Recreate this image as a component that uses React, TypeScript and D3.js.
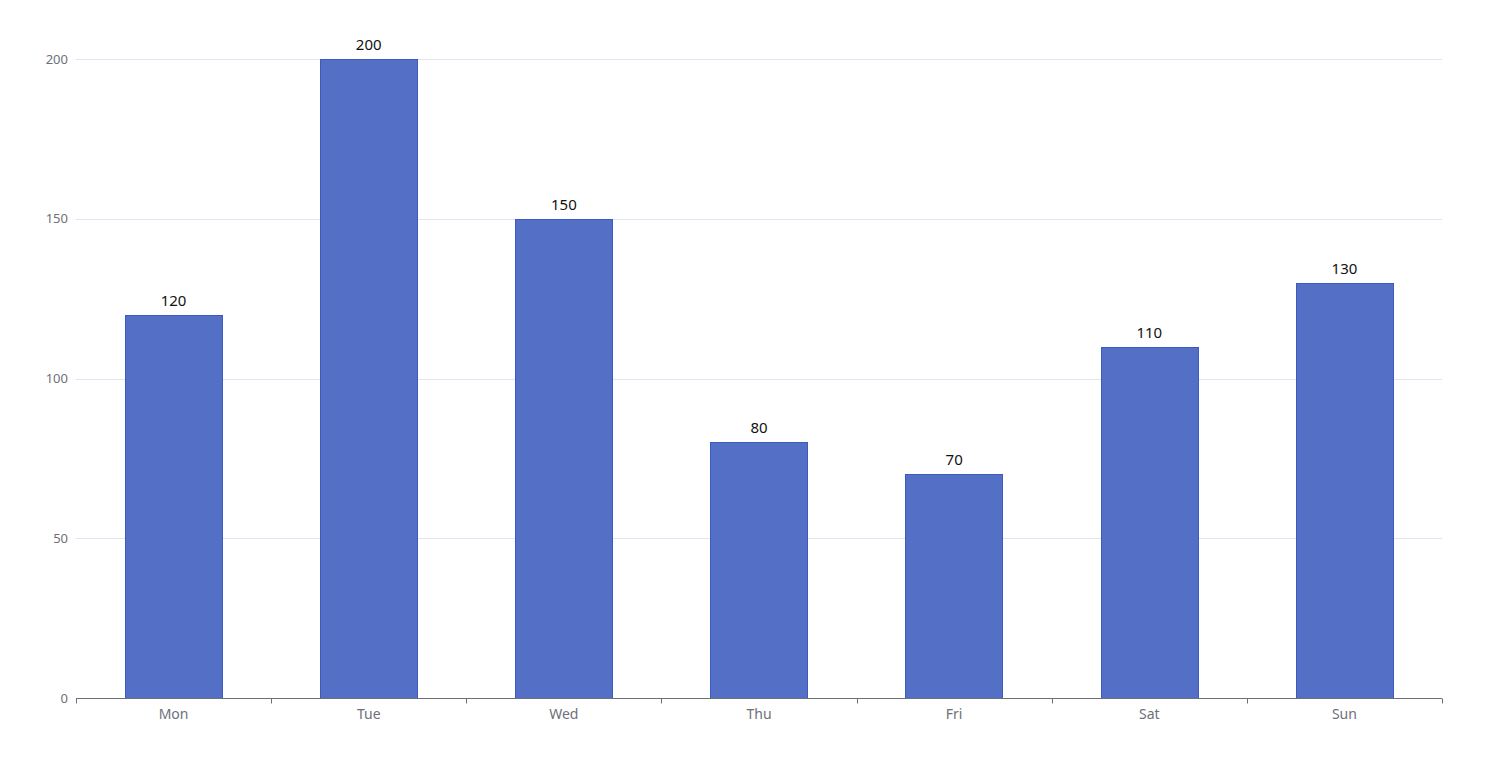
import * as d3 from "d3";
import { useEffect, useRef } from "react";

const days = ["Mon", "Tue", "Wed", "Thu", "Fri", "Sat", "Sun"];
const values = [120, 200, 150, 80, 70, 110, 130];
const yTicks = [0, 50, 100, 150, 200];

const W = 1499;
const H = 767;
const FONT = "'Noto Sans', 'Microsoft YaHei', sans-serif";

export default function App() {
    const ref = useRef<SVGSVGElement>(null);

    useEffect(() => {
        const margin = { top: 59, right: 57, bottom: 69, left: 76 };
        const svg = d3.select(ref.current);
        svg.selectAll("*").remove();

        const x = d3.scaleBand<string>()
            .domain(days)
            .range([margin.left, W - margin.right])
            .paddingInner(0.5)
            .paddingOuter(0.25);

        const y = d3.scaleLinear()
            .domain([0, 200])
            .range([H - margin.bottom, margin.top]);

        // grid lines
        svg.append("g")
            .selectAll("line")
            .data(yTicks.filter(t => t > 0))
            .join("line")
            .attr("x1", margin.left)
            .attr("x2", W - margin.right)
            .attr("y1", d => Math.round(y(d)) + 0.5)
            .attr("y2", d => Math.round(y(d)) + 0.5)
            .attr("stroke", "#E0E6F1");

        // y labels
        svg.append("g")
            .selectAll("text")
            .data(yTicks)
            .join("text")
            .attr("x", margin.left - 8)
            .attr("y", d => y(d))
            .attr("dy", "0.35em")
            .attr("text-anchor", "end")
            .attr("fill", "#6E7079")
            .style("font-family", FONT)
            .style("font-size", "13px")
            .text(d => d);

        // bars
        svg.append("g")
            .selectAll("rect")
            .data(values)
            .join("rect")
            .attr("x", (_, i) => Math.round(x(days[i])!) + 0.5)
            .attr("y", d => Math.round(y(d)) + 0.5)
            .attr("width", Math.floor(x.bandwidth()))
            .attr("height", d => Math.round(y(0)) - Math.round(y(d)))
            .attr("fill", "#5470C6")
            .attr("stroke", "#3D5BBF")
            .attr("stroke-width", 1);

        // value labels
        svg.append("g")
            .selectAll("text")
            .data(values)
            .join("text")
            .attr("x", (_, i) => x(days[i])! + x.bandwidth() / 2)
            .attr("y", d => y(d) - 9)
            .attr("text-anchor", "middle")
            .attr("fill", "#111")
            .style("font-family", FONT)
            .style("font-size", "15px")
            .text(d => d);

        // x axis
        const step = x.step();
        const base = Math.round(y(0)) + 0.5;
        const axis = svg.append("g");
        axis.append("line")
            .attr("x1", margin.left)
            .attr("x2", W - margin.right)
            .attr("y1", base)
            .attr("y2", base)
            .attr("stroke", "#6E7079");
        axis.selectAll("line.tick")
            .data(d3.range(days.length + 1))
            .join("line")
            .attr("class", "tick")
            .attr("x1", i => Math.round(margin.left + i * step) + 0.5)
            .attr("x2", i => Math.round(margin.left + i * step) + 0.5)
            .attr("y1", base)
            .attr("y2", base + 5)
            .attr("stroke", "#6E7079");
        axis.selectAll("text")
            .data(days)
            .join("text")
            .attr("x", d => x(d)! + x.bandwidth() / 2)
            .attr("y", base + 16)
            .attr("dy", "0.35em")
            .attr("text-anchor", "middle")
            .attr("fill", "#6E7079")
            .style("font-family", FONT)
            .style("font-size", "14px")
            .text(d => d);
    }, []);

    return (
        <svg
            ref={ref}
            width={W}
            height={H}
            style={{ position: "absolute", left: 0, top: 0, background: "#fff" }}
        />
    );
}
